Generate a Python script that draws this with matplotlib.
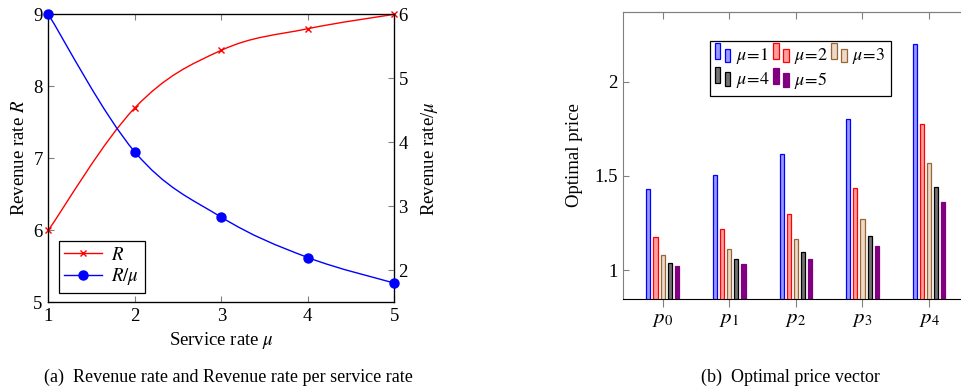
import matplotlib
matplotlib.use("Agg")
import matplotlib.pyplot as plt
import numpy as np
from matplotlib.path import Path
from matplotlib.patches import PathPatch, Rectangle, Patch
from matplotlib.lines import Line2D
from matplotlib.legend_handler import HandlerBase

plt.rcParams['font.family'] = ['Liberation Serif', 'DejaVu Serif']
plt.rcParams['mathtext.fontset'] = 'stix'
plt.rcParams['font.size'] = 13.5

# ---------------- data ----------------
mu = [1, 2, 3, 4, 5]
revenue = [6.0, 7.7, 8.5, 8.8, 9.0]
revenue_per_mu = [6.0, 3.85, 2.83, 2.2, 1.8]

price_labels = ['$p_0$', '$p_1$', '$p_2$', '$p_3$', '$p_4$']
price_mu1 = [1.43, 1.507, 1.615, 1.803, 2.20]
price_mu2 = [1.174, 1.22, 1.296, 1.435, 1.775]
price_mu3 = [1.081, 1.112, 1.165, 1.271, 1.568]
price_mu4 = [1.041, 1.06, 1.096, 1.183, 1.441]
price_mu5 = [1.021, 1.035, 1.062, 1.129, 1.362]
series_labels = [r'$\mu\!=\!1$', r'$\mu\!=\!2$', r'$\mu\!=\!3$', r'$\mu\!=\!4$', r'$\mu\!=\!5$']

W, H = 962, 391
fig = plt.figure(figsize=(W / 100, H / 100), dpi=100)

def frac(x0, y0, x1, y1):
    return [x0 / W, 1 - y1 / H, (x1 - x0) / W, (y1 - y0) / H]

def smooth_path(xs, ys, t=0.18):
    xs = np.asarray(xs, float); ys = np.asarray(ys, float)
    n = len(xs)
    verts = [(xs[0], ys[0])]
    codes = [Path.MOVETO]
    for i in range(n - 1):
        i0 = max(i - 1, 0); i2 = min(i + 2, n - 1)
        c1 = (xs[i] + t * (xs[i + 1] - xs[i0]), ys[i] + t * (ys[i + 1] - ys[i0]))
        c2 = (xs[i + 1] - t * (xs[i2] - xs[i]), ys[i + 1] - t * (ys[i2] - ys[i]))
        verts += [c1, c2, (xs[i + 1], ys[i + 1])]
        codes += [Path.CURVE4] * 3
    return Path(verts, codes)

tickgray = '#808080'

# ---------------- left plot ----------------
ax1 = fig.add_axes(frac(48.3, 14.3, 394.3, 302.3))
ax2 = ax1.twinx()
ax1.set_xlim(1, 5)
ax1.set_ylim(5, 9)
ax2.set_ylim(1.5, 6)
ax1.set_xticks(mu)
ax1.set_yticks([5, 6, 7, 8, 9])
ax2.set_yticks([2, 3, 4, 5, 6])

ax1.add_patch(PathPatch(smooth_path(mu, revenue), fill=False, edgecolor='red', lw=1.0, zorder=3))
ax1.plot(mu, revenue, linestyle='none', marker='x', color='red', markersize=4.5, mew=1.0, zorder=4, clip_on=False)
ax2.add_patch(PathPatch(smooth_path(mu, revenue_per_mu), fill=False, edgecolor='blue', lw=1.0, zorder=3))
ax2.plot(mu, revenue_per_mu, linestyle='none', marker='o', color='blue', markersize=6.5, zorder=4, clip_on=False)

ax1.tick_params(direction='in', top=True, right=False, length=4, color=tickgray, pad=4)
ax2.tick_params(direction='in', length=4, color=tickgray, pad=3)
ax1.set_xlabel(r'Service rate $\mu$', labelpad=4)
ax1.set_ylabel(r'Revenue rate $R$', labelpad=4)
ax2.set_ylabel(r'Revenue rate/$\mu$', labelpad=8)
for sp in ax1.spines.values():
    sp.set_linewidth(0.9)

h1 = Line2D([], [], color='red', marker='x', markersize=4.5, lw=1.0)
h2 = Line2D([], [], color='blue', marker='o', markersize=6.5, lw=1.0)
leg = ax2.legend([h1, h2], ['$R$', r'$R/\mu$'], loc='lower left', bbox_to_anchor=(0.03, 0.032),
                 borderaxespad=0, fancybox=False, edgecolor='black', framealpha=1,
                 numpoints=1, handlelength=2.0, handletextpad=0.5, labelspacing=0.15,
                 borderpad=0.3, fontsize=13.5)
leg.get_frame().set_linewidth(0.9)

# ---------------- right plot ----------------
ax3 = fig.add_axes(frac(622.7, 11.7, 969, 299.3))
ax3.set_xlim(-0.6, 4.6)
ax3.set_ylim(0.846, 2.371)
x = np.arange(len(price_labels))
series = [price_mu1, price_mu2, price_mu3, price_mu4, price_mu5]
fills = [(0.6, 0.6, 1.0), (1.0, 0.62, 0.62), (0.925, 0.85, 0.775), (0.45, 0.45, 0.45), (0.5, 0.0, 0.5)]
edges = ['blue', 'red', (0.6, 0.4, 0.2), 'black', (0.5, 0.0, 0.5)]
spacing = 0.107
width = 0.062
base = ax3.get_ylim()[0]
for k, vals in enumerate(series):
    vals = np.asarray(vals)
    ax3.bar(x + (k - 2) * spacing, vals - base, bottom=base, width=width,
            color=fills[k], edgecolor=edges[k], linewidth=0.9, zorder=3)
ax3.set_xticks(x)
ax3.set_xticklabels(price_labels, fontsize=15)
ax3.set_yticks([1, 1.5, 2])
ax3.set_yticklabels(['1', '1.5', '2'])
ax3.tick_params(axis='y', direction='in', length=4, color=tickgray, right=False)
ax3.tick_params(axis='x', direction='out', length=6, color=tickgray, top=False, pad=2)
top = ax3.secondary_xaxis('top')
top.set_xticks(x)
top.tick_params(direction='in', length=5, color=tickgray, labeltop=False)
top.spines['top'].set_color(tickgray)
ax3.spines['right'].set_visible(False)
ax3.spines['left'].set_color(tickgray)
ax3.spines['top'].set_color(tickgray)
ax3.spines['bottom'].set_color('black')
ax3.set_ylabel('Optimal price', labelpad=8)

class TwoBarHandler(HandlerBase):
    def create_artists(self, legend, orig_handle, xdescent, ydescent, width, height, fontsize, trans):
        fc = orig_handle.get_facecolor(); ec = orig_handle.get_edgecolor()
        w = width * 0.3
        r1 = Rectangle((-xdescent, -ydescent + 0.15 * height), w, height * 1.15,
                       facecolor=fc, edgecolor=ec, lw=0.9, transform=trans)
        r2 = Rectangle((-xdescent + width * 0.55, -ydescent - 0.1 * height), w, height * 1.0,
                       facecolor=fc, edgecolor=ec, lw=0.9, transform=trans)
        return [r1, r2]

handles = [Patch(facecolor=fills[k], edgecolor=edges[k]) for k in range(5)]
order = [0, 3, 1, 4, 2]
leg2 = ax3.legend([handles[i] for i in order], [series_labels[i] for i in order],
                  loc='upper left', bbox_to_anchor=(0.251, 0.898),
                  borderaxespad=0, ncol=3, fancybox=False, edgecolor='black', framealpha=1,
                  handler_map={Patch: TwoBarHandler()}, handlelength=1.0, handleheight=0.8,
                  handletextpad=0.15, columnspacing=0.2, labelspacing=0.2, borderpad=0.3,
                  fontsize=13)
leg2.get_frame().set_linewidth(0.9)
leg2.set_zorder(10)

# ---------------- captions ----------------
fig.text(228 / W, 1 - 377 / H, '(a)  Revenue rate and Revenue rate per service rate',
         ha='center', va='center', fontsize=13)
fig.text(790 / W, 1 - 377 / H, '(b)  Optimal price vector', ha='center', va='center', fontsize=13)

fig.savefig('out.png', dpi=100)
